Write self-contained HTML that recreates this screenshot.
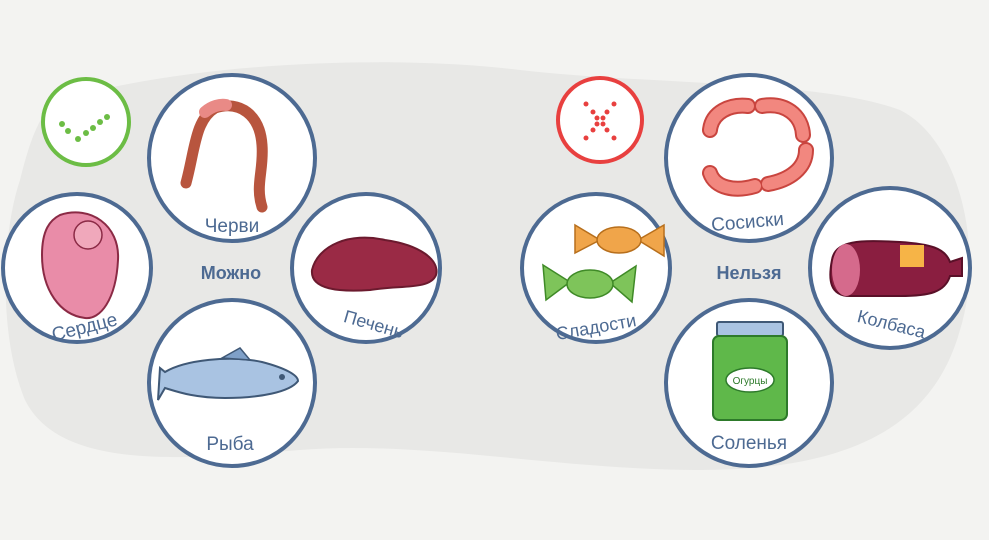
<!DOCTYPE html>
<html><head><meta charset="utf-8"><style>
html,body{margin:0;padding:0;background:#f3f3f1;}
svg{display:block}
text{font-family:"Liberation Sans",sans-serif;fill:#4d6a92}
</style></head><body>
<svg width="989" height="540" viewBox="0 0 989 540">
<rect width="989" height="540" fill="#f3f3f1"/>
<path d="M60 100 C200 60 400 55 520 70 C650 85 820 80 900 110 C960 140 985 250 960 330 C935 420 860 470 700 470 C560 470 420 440 300 450 C180 460 60 470 25 400 C0 340 0 240 20 180 C30 140 40 110 60 100 Z" fill="#e8e8e6"/>
<g fill="#fff" stroke="#4d6a92" stroke-width="4">
<circle cx="232" cy="158" r="83"/>
<circle cx="77" cy="268" r="74"/>
<circle cx="366" cy="268" r="74"/>
<circle cx="232" cy="383" r="83"/>
<circle cx="749" cy="158" r="83"/>
<circle cx="596" cy="268" r="74"/>
<circle cx="890" cy="268" r="80"/>
<circle cx="749" cy="383" r="83"/>
</g>
<circle cx="86" cy="122" r="43" fill="#fff" stroke="#6cbd45" stroke-width="4"/>
<g fill="#6cbd45"><circle cx="62" cy="124" r="3"/><circle cx="68" cy="131" r="3"/><circle cx="78" cy="139" r="3"/><circle cx="86" cy="133" r="3"/><circle cx="93" cy="128" r="3"/><circle cx="100" cy="122" r="3"/><circle cx="107" cy="117" r="3"/></g>
<circle cx="600" cy="120" r="42" fill="#fff" stroke="#e8403f" stroke-width="4"/>
<g fill="#e8403f"><circle cx="586" cy="104" r="2.5"/><circle cx="593" cy="112" r="2.5"/><circle cx="607" cy="112" r="2.5"/><circle cx="614" cy="104" r="2.5"/><circle cx="597" cy="118" r="2.5"/><circle cx="603" cy="118" r="2.5"/><circle cx="597" cy="124" r="2.5"/><circle cx="603" cy="124" r="2.5"/><circle cx="593" cy="130" r="2.5"/><circle cx="607" cy="130" r="2.5"/><circle cx="586" cy="138" r="2.5"/><circle cx="614" cy="138" r="2.5"/></g>
<!-- worm -->
<path d="M186 183 C195 150 195 120 215 108 C240 100 260 115 262 145 C264 170 255 185 262 207" fill="none" stroke="#b8553e" stroke-width="11" stroke-linecap="round"/>
<path d="M205 112 C212 106 220 104 226 105" stroke="#e98a86" stroke-width="12" fill="none" stroke-linecap="round"/>
<!-- heart -->
<path d="M60 215 C90 205 120 225 118 260 C116 300 100 320 85 318 C60 315 42 290 42 255 C42 230 50 220 60 215Z" fill="#e98ca8" stroke="#8b2a45" stroke-width="2"/>
<circle cx="88" cy="235" r="14" fill="#f0a8bb" stroke="#8b2a45" stroke-width="1.5"/>
<!-- liver -->
<path d="M312 270 C318 245 350 232 385 240 C420 245 440 260 436 275 C430 290 400 285 370 290 C340 292 310 290 312 270Z" fill="#9a2a45" stroke="#6b1a2e" stroke-width="2"/>
<!-- fish -->
<path d="M165 372 C185 360 230 355 262 362 C285 368 298 375 298 381 C290 392 260 398 225 398 C195 398 178 392 165 388 L158 400 L160 368Z" fill="#a9c3e2" stroke="#3f5876" stroke-width="2"/>
<path d="M222 358 L240 348 L250 360Z" fill="#7fa0c8" stroke="#3f5876" stroke-width="1.5"/>
<circle cx="282" cy="377" r="3" fill="#3f5876"/>
<!-- sausages -->
<g fill="none" stroke-linecap="round">
<g stroke="#c9453f" stroke-width="16">
<path d="M710 130 C712 112 730 104 748 106"/>
<path d="M762 106 C785 102 802 115 803 135"/>
<path d="M710 173 C715 188 735 192 755 186"/>
<path d="M768 184 C790 180 806 168 806 150"/>
</g>
<g stroke="#f2877f" stroke-width="12">
<path d="M710 130 C712 112 730 104 748 106"/>
<path d="M762 106 C785 102 802 115 803 135"/>
<path d="M710 173 C715 188 735 192 755 186"/>
<path d="M768 184 C790 180 806 168 806 150"/>
</g>
</g>
<!-- candies -->
<g stroke="#b76f1c" stroke-width="1.5" fill="#f0a54a">
<path d="M575 225 L600 240 L575 253Z"/><path d="M664 225 L638 240 L664 256Z"/>
<ellipse cx="619" cy="240" rx="22" ry="13"/>
</g>
<g stroke="#3f8a27" stroke-width="1.5" fill="#7ec45a">
<path d="M543 265 L570 282 L546 300Z"/><path d="M636 266 L610 283 L632 302Z"/>
<ellipse cx="590" cy="284" rx="23" ry="14"/>
</g>
<!-- salami -->
<path d="M832 260 C835 240 860 240 900 242 C930 244 945 248 950 262 L962 258 L962 276 L950 276 C945 292 930 296 900 296 L850 296 C830 296 828 280 832 260Z" fill="#8a1e40" stroke="#5a1028" stroke-width="2"/>
<ellipse cx="846" cy="270" rx="14" ry="26" fill="#d56a8c"/>
<rect x="900" y="245" width="24" height="22" fill="#f6b447"/>
<!-- jar -->
<rect x="717" y="322" width="66" height="14" rx="2" fill="#a9c3e2" stroke="#3f5876" stroke-width="2"/>
<rect x="713" y="336" width="74" height="84" rx="6" fill="#5fb84a" stroke="#2d7a2a" stroke-width="2"/>
<ellipse cx="750" cy="380" rx="24" ry="12" fill="#fff" stroke="#2d7a2a" stroke-width="1.5"/>
<text x="750" y="384" font-size="10" text-anchor="middle" style="fill:#2d7a2a">Огурцы</text>
<!-- labels -->
<g font-size="19">
<text x="232" y="232" text-anchor="middle">Черви</text>
<text x="86" y="333" text-anchor="middle" transform="rotate(-14 86 333)">Сердце</text>
<text x="372" y="330" text-anchor="middle" transform="rotate(16 372 330)" font-size="18">Печень</text>
<text x="230" y="450" text-anchor="middle">Рыба</text>
<text x="748" y="228" text-anchor="middle" transform="rotate(-5 748 228)">Сосиски</text>
<text x="597" y="333" text-anchor="middle" transform="rotate(-10 597 333)" font-size="18">Сладости</text>
<text x="890" y="330" text-anchor="middle" transform="rotate(14 890 330)" font-size="18">Колбаса</text>
<text x="749" y="449" text-anchor="middle">Соленья</text>
</g>
<text x="231" y="279" font-size="18" font-weight="bold" text-anchor="middle">Можно</text>
<text x="749" y="279" font-size="18" font-weight="bold" text-anchor="middle">Нельзя</text>
</svg>
</body></html>
